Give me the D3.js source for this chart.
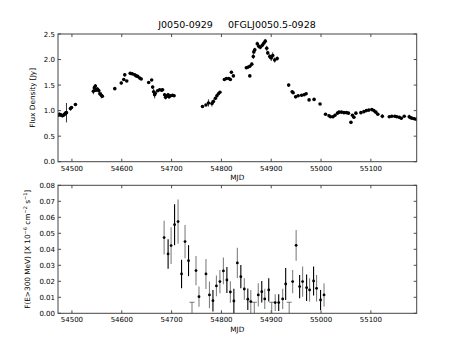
<!DOCTYPE html>
<html>
<head>
<meta charset="utf-8">
<script src="https://cdn.jsdelivr.net/npm/d3@7"></script>
<style>
  body { margin: 0; background: #fff; }
  svg text { font-family: "DejaVu Sans", sans-serif; fill: #000; }
</style>
</head>
<body>
<div id="chart"></div>
<script>
// radio light curve (top panel): MJD, flux density [Jy], error
const radioMjd = [
  54473, 54475, 54477, 54479, 54481, 54483, 54485, 54487, 54489, 54497, 54499, 54507,
  54543, 54545, 54547, 54548, 54551, 54552, 54554, 54556, 54559, 54561,
  54586, 54599, 54604, 54606, 54610, 54617, 54621, 54626, 54629, 54632, 54636, 54639,
  54654, 54660, 54662, 54664, 54666, 54667, 54672, 54676, 54680, 54682,
  54686, 54688, 54690, 54693, 54695, 54698, 54702, 54705,
  54762, 54769, 54774, 54781, 54784, 54788, 54791, 54794, 54797,
  54806, 54810, 54815, 54818, 54820, 54824,
  54850, 54853, 54857, 54857, 54861, 54864, 54865, 54867, 54872, 54875, 54878, 54882,
  54885, 54888, 54891, 54893, 54897, 54900, 54903, 54907, 54912,
  54935, 54942, 54944, 54949, 54954, 54961, 54966, 54970, 54976, 54986, 54998,
  55009, 55016, 55019, 55024, 55028, 55033, 55036, 55041, 55046, 55051, 55055,
  55060, 55063, 55066, 55070, 55080, 55086, 55091, 55096, 55102, 55106, 55110, 55114,
  55123, 55137, 55142, 55148, 55152, 55157, 55161, 55167, 55177, 55180, 55183, 55187, 55191
];
const radioFlux = [
  0.91, 0.93, 0.92, 0.91, 0.90, 0.91, 0.93, 0.95, 0.96, 1.04, 1.06, 1.12,
  1.38, 1.45, 1.48, 1.40, 1.42, 1.41, 1.39, 1.33, 1.30, 1.28,
  1.43, 1.54, 1.61, 1.70, 1.58, 1.73, 1.72, 1.70, 1.68, 1.67, 1.64, 1.62,
  1.55, 1.60, 1.46, 1.37, 1.31, 1.34, 1.39, 1.41, 1.40, 1.41,
  1.31, 1.26, 1.28, 1.31, 1.27, 1.29, 1.30, 1.29,
  1.08, 1.11, 1.15, 1.14, 1.18, 1.24, 1.29, 1.33, 1.36,
  1.61, 1.63, 1.63, 1.61, 1.75, 1.68,
  1.84, 1.85, 1.87, 1.68, 1.91, 2.06, 2.15, 2.19, 2.31, 2.26, 2.24, 2.28,
  2.32, 2.36, 2.22, 2.13, 2.06, 2.03, 2.08, 1.99, 2.02,
  1.50, 1.37, 1.35, 1.27, 1.29, 1.30, 1.31, 1.33, 1.21, 1.22, 1.13,
  0.93, 0.90, 0.88, 0.88, 0.91, 0.95, 0.97, 0.97, 0.96, 0.96, 0.95,
  0.77, 0.91, 0.87, 0.95, 0.96, 0.98, 1.00, 1.01, 1.02, 1.00, 0.97, 0.93,
  0.89, 0.88, 0.89, 0.89, 0.88, 0.87, 0.85, 0.89, 0.88, 0.86, 0.85, 0.84, 0.83
];
const radioErr = [
  0.03, 0.03, 0.03, 0.03, 0.03, 0.03, 0.03, 0.04, 0.19, 0.04, 0.03, 0.03,
  0.06, 0.05, 0.04, 0.03, 0.04, 0.03, 0.03, 0.03, 0.06, 0.03,
  0.02, 0.03, 0.03, 0.03, 0.02, 0.02, 0.02, 0.02, 0.02, 0.02, 0.02, 0.02,
  0.02, 0.02, 0.03, 0.06, 0.07, 0.03, 0.02, 0.02, 0.02, 0.02,
  0.03, 0.04, 0.03, 0.03, 0.03, 0.02, 0.02, 0.02,
  0.02, 0.02, 0.07, 0.06, 0.04, 0.03, 0.03, 0.02, 0.02,
  0.02, 0.02, 0.02, 0.02, 0.03, 0.02,
  0.02, 0.02, 0.02, 0.02, 0.03, 0.05, 0.04, 0.04, 0.04, 0.04, 0.04, 0.04,
  0.04, 0.04, 0.05, 0.04, 0.05, 0.06, 0.06, 0.05, 0.04,
  0.03, 0.02, 0.02, 0.02, 0.02, 0.02, 0.02, 0.02, 0.02, 0.02, 0.02,
  0.02, 0.02, 0.02, 0.02, 0.02, 0.02, 0.02, 0.02, 0.02, 0.02, 0.02,
  0.02, 0.02, 0.02, 0.02, 0.02, 0.02, 0.02, 0.02, 0.02, 0.02, 0.02, 0.02,
  0.04, 0.02, 0.02, 0.02, 0.02, 0.02, 0.02, 0.02, 0.04, 0.02, 0.02, 0.02, 0.02
];

// gamma-ray light curve (bottom panel), two interleaved series + upper limits
const gammaMjdA  = [54685, 54699, 54713, 54727, 54749, 54755, 54769, 54776, 54790, 54797, 54804, 54818, 54832, 54846, 54859, 54874, 54887, 54908, 54923, 54943, 54950, 54963, 54977, 54991, 55006];
const gammaFluxA = [0.0473, 0.0423, 0.0573, 0.0448, 0.0267, 0.0104, 0.0246, 0.0115, 0.0171, 0.0198, 0.0265, 0.0133, 0.0315, 0.0152, 0.0073, 0.0115, 0.0090, 0.0067, 0.0090, 0.0198, 0.0425, 0.0198, 0.0146, 0.0156, 0.0115];
const gammaErrA  = [0.0106, 0.0115, 0.0138, 0.0104, 0.0091, 0.0063, 0.0094, 0.0083, 0.0065, 0.0073, 0.0083, 0.0067, 0.0094, 0.0067, 0.0073, 0.0073, 0.0063, 0.0052, 0.0063, 0.0073, 0.0096, 0.0094, 0.0073, 0.0083, 0.0073];
const gammaMjdB  = [54693, 54706, 54720, 54734, 54783, 54811, 54825, 54839, 54853, 54881, 54895, 54915, 54929, 54957, 54971, 54985, 54999];
const gammaFluxB = [0.0371, 0.0554, 0.0246, 0.0329, 0.0079, 0.0208, 0.0077, 0.0229, 0.0088, 0.0135, 0.0146, 0.0067, 0.0183, 0.0167, 0.0160, 0.0202, 0.0083];
const gammaErrB  = [0.0092, 0.0128, 0.0089, 0.0097, 0.0067, 0.0081, 0.0077, 0.0073, 0.0067, 0.0067, 0.0073, 0.0052, 0.0100, 0.0073, 0.0083, 0.0090, 0.0063];
const upperMjd   = [54741, 54866, 54901, 54936];
const upperFlux  = [0.0069, 0.0069, 0.0069, 0.0069];

const mjdTicks = [54500, 54600, 54700, 54800, 54900, 55000, 55100];
const radioTicks = [0, 0.5, 1.0, 1.5, 2.0, 2.5];
const gammaTicks = [0, 0.01, 0.02, 0.03, 0.04, 0.05, 0.06, 0.07, 0.08];

const W = 463, H = 348;
const left = 58, right = 416.7;
const svg = d3.select("#chart").append("svg")
  .attr("width", W).attr("height", H);

const x = d3.scaleLinear().domain([54472, 55192]).range([left, right]);

function panel(top, bottom, yDomain, yTicks, yFmt) {
  const y = d3.scaleLinear().domain(yDomain).range([bottom, top]);
  const g = svg.append("g");
  const tl = 3;
  // ticks inward on all four sides
  mjdTicks.forEach(t => {
    g.append("line").attr("x1", x(t)).attr("x2", x(t)).attr("y1", bottom).attr("y2", bottom - tl).attr("stroke", "#000").attr("stroke-width", 0.7);
    g.append("line").attr("x1", x(t)).attr("x2", x(t)).attr("y1", top).attr("y2", top + tl).attr("stroke", "#000").attr("stroke-width", 0.7);
    g.append("text").attr("x", x(t)).attr("y", bottom + 9).attr("text-anchor", "middle")
      .style("font-size", "7px").text(t);
  });
  yTicks.forEach(t => {
    g.append("line").attr("x1", left).attr("x2", left + tl).attr("y1", y(t)).attr("y2", y(t)).attr("stroke", "#000").attr("stroke-width", 0.7);
    g.append("line").attr("x1", right).attr("x2", right - tl).attr("y1", y(t)).attr("y2", y(t)).attr("stroke", "#000").attr("stroke-width", 0.7);
    g.append("text").attr("x", left - 3).attr("y", y(t) + 2.5).attr("text-anchor", "end")
      .style("font-size", "7px").text(d3.format(yFmt)(t));
  });
  g.append("text").attr("x", (left + right) / 2).attr("y", bottom + 18.5).attr("text-anchor", "middle")
    .style("font-size", "7.3px").text("MJD");
  return { y, g, top, bottom };
}

function frame(p) {
  svg.append("rect").attr("x", left).attr("y", p.top).attr("width", right - left).attr("height", p.bottom - p.top)
    .attr("fill", "none").attr("stroke", "#444").attr("stroke-width", 1);
}

// title
svg.append("text").attr("x", 237).attr("y", 28).attr("text-anchor", "middle")
  .style("font-size", "9.5px").attr("xml:space", "preserve")
  .text("J0050-0929     0FGLJ0050.5-0928");

// ---- top panel
const p1 = panel(34, 161.7, [0, 2.5], radioTicks, ".1f");
const radio = radioMjd.map((m, i) => ({ m: m, f: radioFlux[i], e: radioErr[i] }));
const clip1 = svg.append("clipPath").attr("id", "c1").append("rect")
  .attr("x", left).attr("y", p1.top).attr("width", right - left).attr("height", p1.bottom - p1.top);
const g1 = svg.append("g").attr("clip-path", "url(#c1)");
g1.selectAll(".eb").data(radio).enter().append("line")
  .attr("x1", d => x(d.m)).attr("x2", d => x(d.m))
  .attr("y1", d => p1.y(d.f - d.e)).attr("y2", d => p1.y(d.f + d.e))
  .attr("stroke", "#000").attr("stroke-width", 0.8);
g1.selectAll(".pt").data(radio).enter().append("circle")
  .attr("cx", d => x(d.m)).attr("cy", d => p1.y(d.f)).attr("r", 1.8).attr("fill", "#000");
frame(p1);
svg.append("text").attr("transform", "translate(35," + ((p1.top + p1.bottom) / 2) + ") rotate(-90)")
  .attr("text-anchor", "middle").style("font-size", "7.3px").text("Flux Density [Jy]");

// ---- bottom panel
const p2 = panel(185.3, 313.3, [0, 0.08], gammaTicks, ".2f");
const g2 = svg.append("g");
const seriesA = gammaMjdA.map((m, i) => ({ m: m, f: gammaFluxA[i], e: gammaErrA[i] }));
const seriesB = gammaMjdB.map((m, i) => ({ m: m, f: gammaFluxB[i], e: gammaErrB[i] }));
[[seriesA, "#808080"], [seriesB, "#000"]].forEach(([s, col]) => {
  g2.selectAll(null).data(s).enter().append("line")
    .attr("x1", d => x(d.m)).attr("x2", d => x(d.m))
    .attr("y1", d => p2.y(Math.max(0, d.f - d.e))).attr("y2", d => p2.y(d.f + d.e))
    .attr("stroke", col).attr("stroke-width", 1.1);
});
const ul = upperMjd.map((m, i) => ({ m: m, f: upperFlux[i] }));
g2.selectAll(null).data(ul).enter().append("path")
  .attr("d", d => "M" + x(d.m) + "," + p2.y(0) + "V" + p2.y(d.f) + "M" + (x(d.m) - 2.5) + "," + p2.y(d.f) + "H" + (x(d.m) + 2.5))
  .attr("stroke", "#666").attr("stroke-width", 0.9).attr("fill", "none");
g2.selectAll(null).data(seriesA.concat(seriesB)).enter().append("circle")
  .attr("cx", d => x(d.m)).attr("cy", d => p2.y(d.f)).attr("r", 1.4).attr("fill", "#000");
frame(p2);
const yl2 = svg.append("text").attr("transform", "translate(30," + ((p2.top + p2.bottom) / 2) + ") rotate(-90)")
  .attr("text-anchor", "middle").style("font-size", "7.3px");
yl2.append("tspan").text("F(E>300 MeV) [X 10");
yl2.append("tspan").attr("dy", -3).style("font-size", "5px").text("\u22126");
yl2.append("tspan").attr("dy", 3).text(" cm");
yl2.append("tspan").attr("dy", -3).style("font-size", "5px").text("\u22122");
yl2.append("tspan").attr("dy", 3).text(" s");
yl2.append("tspan").attr("dy", -3).style("font-size", "5px").text("\u22121");
yl2.append("tspan").attr("dy", 3).text("]");
</script>
</body>
</html>
